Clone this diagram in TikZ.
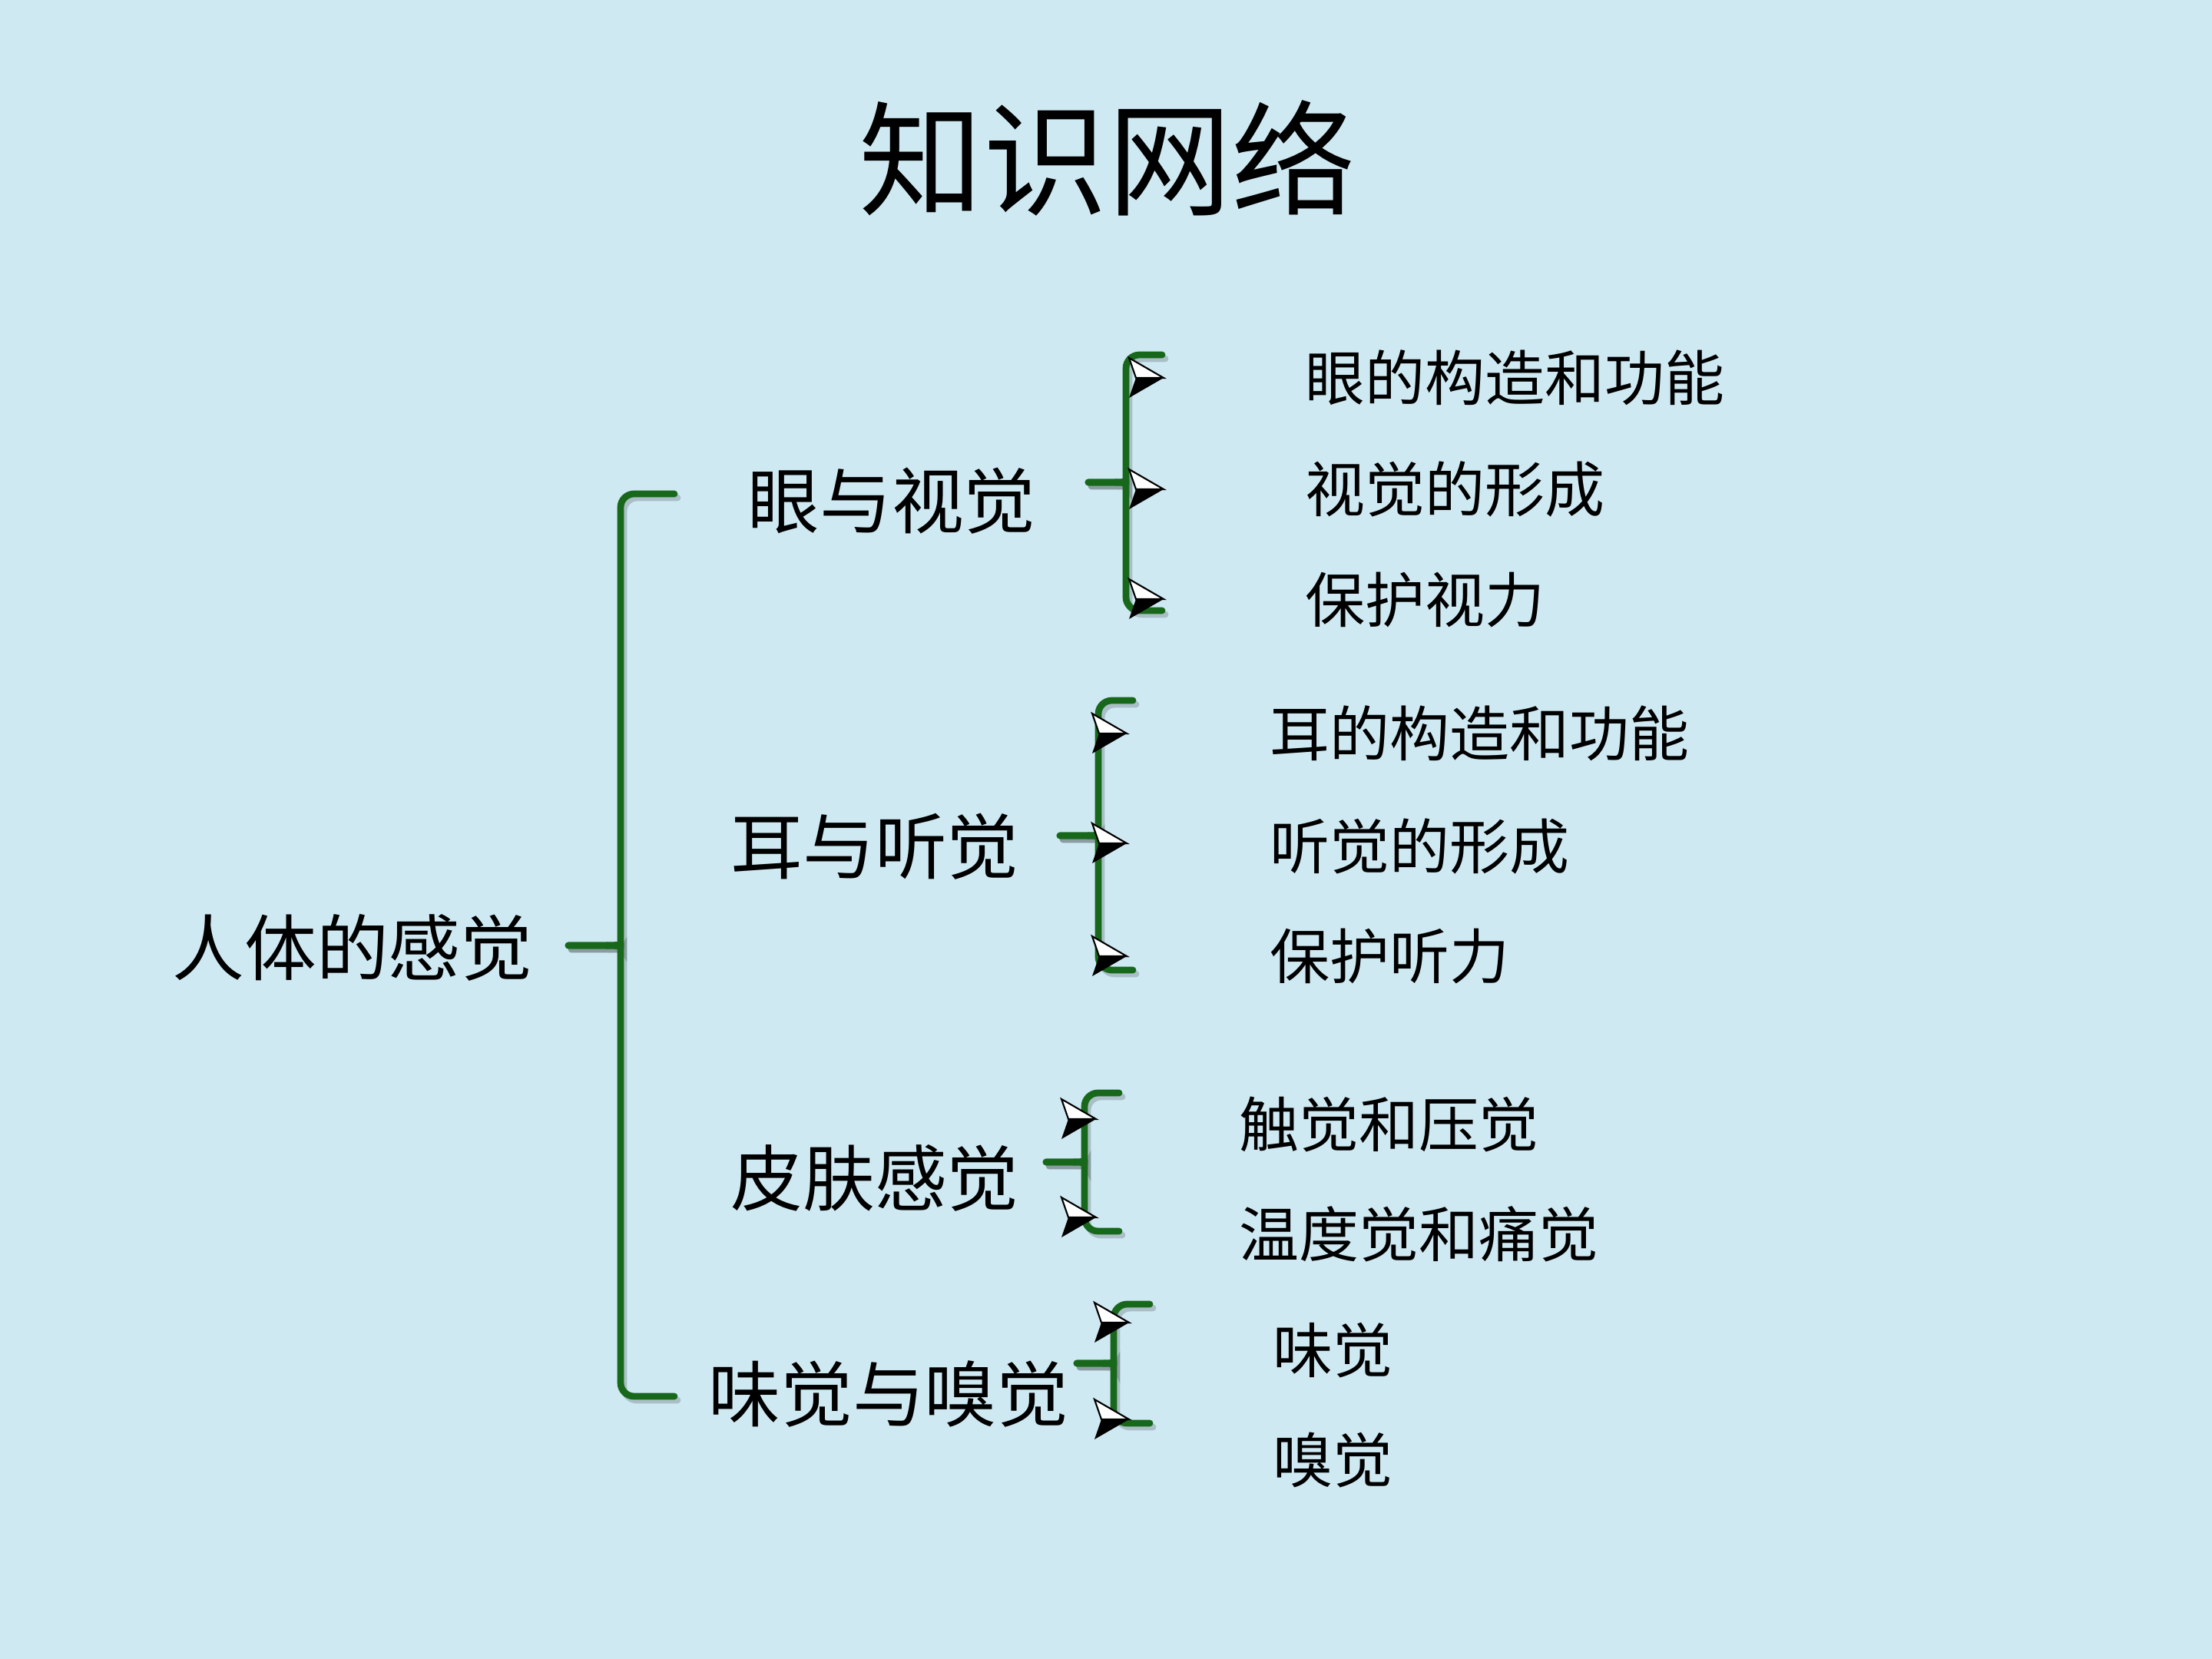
\documentclass[tikz,border=0pt]{standalone}
\usepackage{fontspec}
\setmainfont{Noto Sans CJK SC}
\usetikzlibrary{positioning}

\definecolor{paper}{RGB}{207,233,242}
\definecolor{leaf}{RGB}{24,104,28}

\tikzset{
  heading/.style={font=\fontsize{46}{50}\selectfont, inner sep=0pt},
  topic/.style={font=\fontsize{26.7}{30}\selectfont, inner sep=0pt},
  item/.style={font=\fontsize{22.2}{26}\selectfont, inner sep=0pt, anchor=west},
  bracket/.style={draw=leaf, line width=2.5pt, line cap=round, line join=round, rounded corners=5pt},
  bracketshade/.style={draw=black, opacity=0.18, line width=2.5pt, line cap=round, rounded corners=5pt},
}

% brace: tip x, line x, arm x, top y, middle y, bottom y
\newcommand{\sensebrace}[6]{%
  \begin{scope}[shift={(0.04,-0.05)}]
    \draw[bracketshade] (#3,#4) -- (#2,#4) -- (#2,#5+0.15) .. controls (#2,#5) .. (#1,#5);
    \draw[bracketshade] (#1,#5) .. controls (#2,#5) .. (#2,#5-0.15) -- (#2,#6) -- (#3,#6);
  \end{scope}
  \draw[bracket] (#3,#4) -- (#2,#4) -- (#2,#5+0.15) .. controls (#2,#5) .. (#1,#5);
  \draw[bracket] (#1,#5) .. controls (#2,#5) .. (#2,#5-0.15) -- (#2,#6) -- (#3,#6);
}

% arrowhead bullet: left x, centre y
\newcommand{\bulletmark}[2]{%
  \fill[black] (#1+0.09,#2) -- (#1+0.45,#2) -- (#1,#2-0.26) -- cycle;
  \filldraw[fill=white, draw=black, line width=0.6pt] (#1,#2+0.26) -- (#1+0.45,#2) -- (#1+0.09,#2) -- cycle;
}

\begin{document}
\begin{tikzpicture}
    \fill[paper] (0,0) rectangle (28.8,-21.6);
    \useasboundingbox (0,0) rectangle (28.8,-21.6);

    % Title
    \node[heading] (title) at (14.42,-2.06) {知识网络};

    % Root and senses
    \node[topic] (body) at (4.59,-12.34) {人体的感觉};
    \node[topic] (eye) at (11.61,-6.52) {眼与视觉};
    \node[topic] (ear) at (11.39,-11.02) {耳与听觉};
    \node[topic] (skin) at (11.39,-15.34) {皮肤感觉};
    \node[topic] (taste) at (11.57,-18.15) {味觉与嗅觉};

    % Braces
    \sensebrace{7.40}{8.08}{8.78}{-6.43}{-12.31}{-18.18}
    \sensebrace{14.17}{14.66}{15.13}{-4.62}{-6.28}{-7.95}
    \sensebrace{13.80}{14.30}{14.75}{-9.12}{-10.88}{-12.63}
    \sensebrace{13.62}{14.12}{14.57}{-14.23}{-15.13}{-16.03}
    \sensebrace{14.02}{14.50}{14.97}{-16.98}{-17.75}{-18.53}

    % Bullets
    \bulletmark{14.70}{-4.92}
    \bulletmark{14.70}{-6.37}
    \bulletmark{14.70}{-7.80}
    \bulletmark{14.22}{-9.55}
    \bulletmark{14.22}{-10.98}
    \bulletmark{14.22}{-12.45}
    \bulletmark{13.82}{-14.57}
    \bulletmark{13.82}{-15.85}
    \bulletmark{14.25}{-17.22}
    \bulletmark{14.25}{-18.48}

    % Items
    \node[item] (eye1) at (16.99,-4.92) {眼的构造和功能};
    \node[item] (eye2) at (16.99,-6.37) {视觉的形成};
    \node[item] (eye3) at (16.99,-7.81) {保护视力};
    \node[item] (ear1) at (16.53,-9.55) {耳的构造和功能};
    \node[item] (ear2) at (16.53,-11.02) {听觉的形成};
    \node[item] (ear3) at (16.53,-12.45) {保护听力};
    \node[item] (skin1) at (16.13,-14.64) {触觉和压觉};
    \node[item] (skin2) at (16.13,-16.07) {温度觉和痛觉};
    \node[item] (taste1) at (16.57,-17.58) {味觉};
    \node[item] (taste2) at (16.57,-19.01) {嗅觉};

\end{tikzpicture}
\end{document}
